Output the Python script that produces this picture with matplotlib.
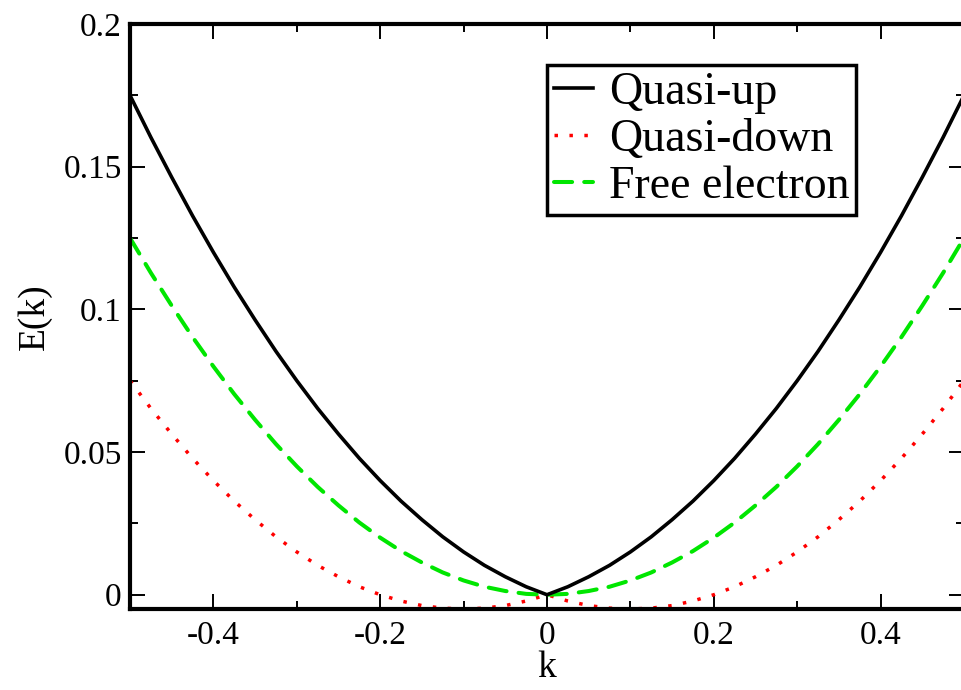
import numpy as np
import matplotlib
matplotlib.use("Agg")
import matplotlib.pyplot as plt
from matplotlib.ticker import FixedLocator

# --- data ---
k = [-0.5, -0.475, -0.45, -0.425, -0.4, -0.375, -0.35, -0.325, -0.3, -0.275,
     -0.25, -0.225, -0.2, -0.175, -0.15, -0.125, -0.1, -0.075, -0.05, -0.025,
     0.0, 0.025, 0.05, 0.075, 0.1, 0.125, 0.15, 0.175, 0.2, 0.225,
     0.25, 0.275, 0.3, 0.325, 0.35, 0.375, 0.4, 0.425, 0.45, 0.475, 0.5]

half_up = [0.175, 0.1603, 0.1463, 0.1328, 0.12, 0.1078, 0.0963, 0.0853, 0.075, 0.0653,
           0.0563, 0.0478, 0.04, 0.0328, 0.0263, 0.0203, 0.015, 0.0103, 0.0063, 0.0028, 0.0]
half_down = [0.075, 0.0653, 0.0563, 0.0478, 0.04, 0.0328, 0.0263, 0.0203, 0.015, 0.0103,
             0.0063, 0.0028, 0.0, -0.0022, -0.0038, -0.0047, -0.005, -0.0047, -0.0038, -0.0022, 0.0]
half_free = [0.125, 0.1128, 0.1013, 0.0903, 0.08, 0.0703, 0.0613, 0.0528, 0.045, 0.0378,
             0.0313, 0.0253, 0.02, 0.0153, 0.0113, 0.0078, 0.005, 0.0028, 0.0013, 0.0003, 0.0]

# curves are symmetric in k
quasi_up = half_up + half_up[-2::-1]
quasi_down = half_down + half_down[-2::-1]
free_el = half_free + half_free[-2::-1]

xticks = [-0.4, -0.2, 0.0, 0.2, 0.4]
xticklabels = ["-0.4", "-0.2", "0", "0.2", "0.4"]
yticks = [0.0, 0.05, 0.1, 0.15, 0.2]
yticklabels = ["0", "0.05", "0.1", "0.15", "0.2"]

plt.rcParams['font.family'] = ['Liberation Serif', 'DejaVu Serif']

fig = plt.figure(figsize=(9.61, 6.90), dpi=100)
ax = fig.add_axes([130/961, 81/690, 834/961, 585/690])

ax.plot(k, quasi_up, color='black', lw=2.6, label='Quasi-up', zorder=3)
ax.plot(k, quasi_down, color='#ff0000', lw=2.5, linestyle=(0, (1, 3.3)),
        dash_capstyle='butt', label='Quasi-down')
ax.plot(k, free_el, color='#00e600', lw=2.9, linestyle=(0, (4.5, 3)),
        dash_capstyle='round', label='Free electron')

ax.set_xlim(-0.5, 0.5)
ax.set_ylim(-0.005, 0.2)

ax.set_xticks(xticks)
ax.set_xticklabels(xticklabels)
ax.set_yticks(yticks)
ax.set_yticklabels(yticklabels)
ax.xaxis.set_minor_locator(FixedLocator([-0.5, -0.3, -0.1, 0.1, 0.3, 0.5]))
ax.yaxis.set_minor_locator(FixedLocator([0.025, 0.075, 0.125, 0.175]))

ax.tick_params(which='both', direction='in', top=True, right=True, labelsize=24)
ax.tick_params(which='major', length=11, width=1.4)
ax.tick_params(which='minor', length=6, width=1.4)
ax.tick_params(axis='x', which='major', pad=8)
ax.tick_params(axis='y', which='major', pad=6)

for s in ax.spines.values():
    s.set_linewidth(3)

ax.set_xlabel("k", fontsize=27, labelpad=0)
ax.set_ylabel("E(k)", fontsize=27, labelpad=8)

leg = ax.legend(loc='upper left', bbox_to_anchor=(0.5, 0.93), fontsize=33,
                frameon=True, fancybox=False, edgecolor='black', framealpha=1,
                borderpad=0.15, borderaxespad=0, handlelength=0.85,
                handletextpad=0.35, labelspacing=0.1)
leg.get_frame().set_linewidth(2.5)

fig.savefig("out.png", dpi=100)
